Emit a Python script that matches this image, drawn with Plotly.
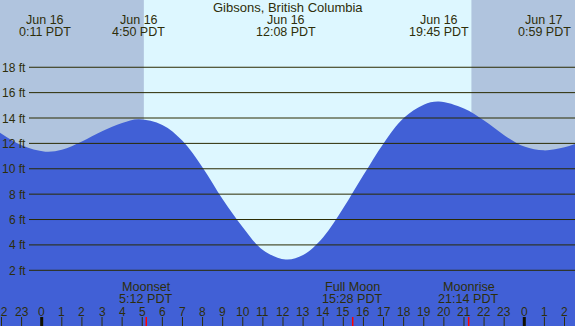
import plotly.graph_objects as go

# ---- data (hours from midnight Jun 16, local PDT) ----
tide_hours = [-2.1, -1, 0.18, 1, 2, 3, 4, 4.83, 6, 7, 8, 9, 10, 11, 12.13, 13, 14, 15, 16,
              17, 18, 19, 19.75, 21, 22, 23, 24, 24.98, 26, 26.6]
tide_ft = [12.87, 11.85, 11.35, 11.5, 12.15, 12.95, 13.6, 13.9, 13.45, 12.2, 10.1, 7.6, 5.4, 3.6,
           2.85, 3.2, 4.6, 6.9, 9.5, 12.0, 14.0, 15.05, 15.3, 14.75, 13.8, 12.65, 11.75, 11.45, 11.7, 12.0]

extreme_hours = [0.183, 4.833, 12.133, 19.75, 24.983]
extreme_dates = ["Jun 16", "Jun 16", "Jun 16", "Jun 16", "Jun 17"]
extreme_times = ["0:11 PDT", "4:50 PDT", "12:08 PDT", "19:45 PDT", "0:59 PDT"]

sunrise_h = 5.08
sunset_h = 21.37

moon_hours = [5.2, 15.467, 21.233]
moon_names = ["Moonset", "Full Moon", "Moonrise"]
moon_times = ["5:12 PDT", "15:28 PDT", "21:14 PDT"]

y_ticks = [2, 4, 6, 8, 10, 12, 14, 16, 18]
hour_ticks = list(range(-2, 27))
title = "Gibsons, British Columbia"

# ---- layout constants ----
W, H = 575, 326
X_RANGE = [-2.074, 26.522]
Y_RANGE = [-2.39, 23.30]
TXT = "#2E2E0A"
FONT = "Liberation Sans, Arial, sans-serif"
NIGHT = "#B0C4DE"
DAY = "#DDF7FF"
BLUE = "#4160D6"


def py(pix):
    return 1 - pix / H


fig = go.Figure()
fig.add_trace(go.Scatter(x=[X_RANGE[0] - 1, X_RANGE[1] + 1], y=[Y_RANGE[0] - 1] * 2,
                         mode="lines", line=dict(width=0), hoverinfo="skip", showlegend=False))
fig.add_trace(go.Scatter(x=tide_hours, y=tide_ft, mode="lines", line=dict(width=0, shape="spline"),
                         fill="tonexty", fillcolor=BLUE, hoverinfo="skip", showlegend=False))

shapes = []
# night shading
shapes.append(dict(type="rect", xref="x", yref="paper", x0=X_RANGE[0] - 1, x1=sunrise_h, y0=0, y1=1,
                   fillcolor=NIGHT, line=dict(width=0), layer="below"))
shapes.append(dict(type="rect", xref="x", yref="paper", x0=sunset_h, x1=X_RANGE[1] + 1, y0=0, y1=1,
                   fillcolor=NIGHT, line=dict(width=0), layer="below"))
# grid lines
for v in y_ticks:
    shapes.append(dict(type="line", xref="paper", yref="y", x0=29 / W, x1=1, y0=v, y1=v,
                       line=dict(color="#2A2A00", width=1), layer="above"))
# hour ticks
for h in hour_ticks:
    if h % 24 == 0:
        shapes.append(dict(type="line", xref="x", yref="paper", x0=h, x1=h, y0=0, y1=py(317),
                           line=dict(color="#111100", width=3)))
    else:
        shapes.append(dict(type="line", xref="x", yref="paper", x0=h, x1=h, y0=0, y1=py(317),
                           line=dict(color=TXT, width=1)))
for h in moon_hours:
    shapes.append(dict(type="line", xref="x", yref="paper", x0=h, x1=h, y0=0, y1=py(317),
                       line=dict(color="red", width=1.5)))

ann = []


def txt(x, xref, ypix, s, size=12.5, xanchor="center"):
    ann.append(dict(x=x, xref=xref, y=py(ypix), yref="paper", text=s, showarrow=False,
                    xanchor=xanchor, yanchor="middle", font=dict(family=FONT, size=size, color=TXT)))


txt(0.5, "paper", 8.0, title, size=13)
for h, d, t in zip(extreme_hours, extreme_dates, extreme_times):
    txt(h, "x", 20.0, d)
    txt(h, "x", 31.8, t)
for v in y_ticks:
    ypix = 295.7 - v * 12.69
    txt(27.5 / W, "paper", ypix + 0.5, f"{v} ft", size=12, xanchor="right")
for h, n, t in zip(moon_hours, moon_names, moon_times):
    txt(h, "x", 287.3, n, size=12.6)
    txt(h, "x", 299.0, t, size=12.6)
for h in hour_ticks:
    txt(h, "x", 311.5, str(h % 24), size=12)

fig.update_layout(
    width=W, height=H, autosize=False,
    margin=dict(l=0, r=0, t=0, b=0, pad=0),
    plot_bgcolor=DAY, paper_bgcolor=DAY,
    xaxis=dict(range=X_RANGE, visible=False, fixedrange=True),
    yaxis=dict(range=Y_RANGE, visible=False, fixedrange=True),
    shapes=shapes, annotations=ann, showlegend=False,
)
fig.write_html("out.html", config={"displayModeBar": False},
               post_script="document.body.style.margin='0';document.body.style.overflow='hidden';")
